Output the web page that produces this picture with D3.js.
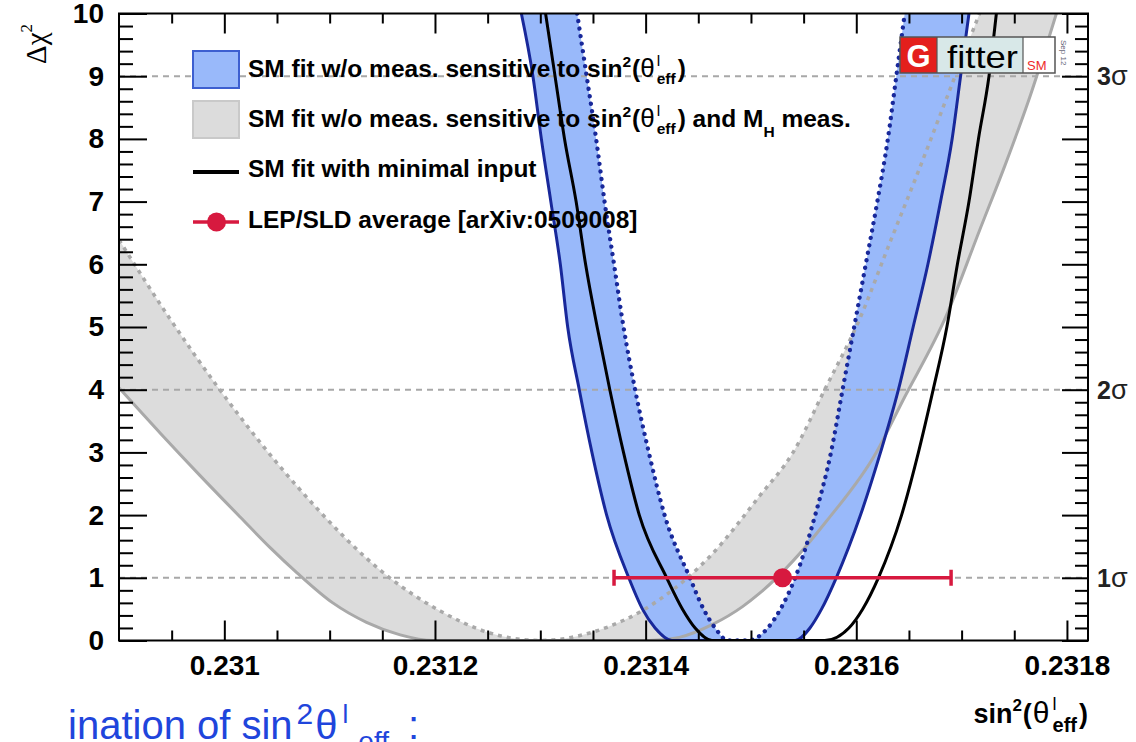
<!DOCTYPE html>
<html><head><meta charset="utf-8">
<script src="https://cdn.jsdelivr.net/npm/d3@7"></script>
<style>html,body{margin:0;padding:0;background:#fff;} svg{display:block;}</style>
</head><body><svg id="c" width="1136" height="742"></svg>
<script>
// ---------------- data ----------------
const xDomain = [0.2309, 0.23182];
const yDomain = [0, 10];
const xMajorTicks = [0.2310, 0.2312, 0.2314, 0.2316, 0.2318];
const xTickLabels = ["0.231", "0.2312", "0.2314", "0.2316", "0.2318"];
const yMajorTicks = [0, 1, 2, 3, 4, 5, 6, 7, 8, 9, 10];
const yTickLabels = ["0", "1", "2", "3", "4", "5", "6", "7", "8", "9", "10"];
const sigmaLevels = [1, 4, 9];
const sigmaLabels = ["1", "2", "3"];

// Grey band: SM fit w/o meas. sensitive to sin2 and MH meas.
const grayInnerX = [0.230900, 0.230948, 0.230993, 0.231069, 0.231157, 0.231205, 0.231252, 0.231300, 0.231347, 0.231413, 0.231461, 0.231508, 0.231540, 0.231570, 0.231603, 0.231632, 0.231657, 0.231689, 0.231717];
const grayInnerY = [6.39, 5.14, 4.06, 2.46, 1.00, 0.47, 0.12, 0.00, 0.12, 0.65, 1.34, 2.30, 3.00, 4.00, 5.12, 6.35, 7.40, 8.79, 10.0];
const grayOuterX = [0.230900, 0.230939, 0.230977, 0.231015, 0.231043, 0.231069, 0.231103, 0.231135, 0.231167, 0.231198, 0.231404, 0.231432, 0.231464, 0.231492, 0.231508, 0.231540, 0.231572, 0.231619, 0.231644, 0.231686, 0.231717, 0.231741, 0.231765, 0.231790];
const grayOuterY = [4.03, 3.31, 2.63, 1.97, 1.49, 1.08, 0.60, 0.29, 0.09, 0.00, 0.00, 0.05, 0.26, 0.54, 0.75, 1.27, 1.91, 3.00, 3.82, 5.20, 6.54, 7.57, 8.68, 10.0];

// Blue band: SM fit w/o meas. sensitive to sin2
const blueInnerX = [0.231335, 0.231344, 0.231353, 0.231361, 0.231370, 0.231379, 0.231390, 0.231403, 0.231418, 0.231442, 0.231455, 0.231466, 0.231478,
                    0.231497, 0.231516, 0.231528, 0.231542, 0.231561, 0.231576, 0.231587, 0.231598, 0.231609, 0.231620, 0.231630, 0.231638, 0.231646];
const blueInnerY = [10, 9, 8, 7, 6, 5, 4, 3, 2, 1, 0.5, 0.2, 0,
                    0, 0.2, 0.5, 1, 2, 3, 4, 5, 6, 7, 8, 9, 10];
const blueOuterX = [0.231282, 0.231293, 0.231301, 0.231310, 0.231319, 0.231326, 0.231337, 0.231349, 0.231363, 0.231384, 0.231397, 0.231409, 0.231425,
                    0.231542, 0.231556, 0.231567, 0.231581, 0.231604, 0.231623, 0.231640, 0.231654, 0.231668, 0.231680, 0.231691, 0.231699, 0.231707];
const blueOuterY = [10, 9, 8, 7, 6, 5, 4, 3, 2, 1, 0.5, 0.2, 0,
                    0, 0.2, 0.5, 1, 2, 3, 4, 5, 6, 7, 8, 9, 10];

// Black: SM fit with minimal input
const blackX = [0.231305, 0.231314, 0.231323, 0.231334, 0.231343, 0.231354, 0.231366, 0.231379, 0.231394, 0.231420, 0.231435, 0.231447, 0.231463,
                0.231570, 0.231593, 0.231606, 0.231621, 0.231643, 0.231659, 0.231673, 0.231686, 0.231696, 0.231707, 0.231716, 0.231726, 0.231733];
const blackY = [10, 9, 8, 7, 6, 5, 4, 3, 2, 1, 0.5, 0.2, 0,
                0, 0.2, 0.5, 1, 2, 3, 4, 5, 6, 7, 8, 9, 10];

// LEP/SLD average
const lepValue = 0.23153;
const lepError = 0.00016;
const lepChi2 = 1;

const legendLabels = ["SM fit w/o meas. sensitive to sin", "SM fit w/o meas. sensitive to sin", "SM fit with minimal input", "LEP/SLD average [arXiv:0509008]"];

// ---------------- chart ----------------
const FONT = "'Liberation Sans', Arial, Helvetica, sans-serif";
const SERIF = "'Liberation Serif', 'Times New Roman', serif";
const BLUE_FILL = "#99b9fa", BLUE_LINE = "#18289a", GRAY_FILL = "#dcdcdc", GRAY_LINE = "#a9a9a9", RED = "#d7193f";

const svg = d3.select("#c");
const fr = {l: 119, r: 1088, t: 13.5, b: 640.5};
const x = d3.scaleLinear().domain(xDomain).range([fr.l, fr.r]);
const y = d3.scaleLinear().domain(yDomain).range([fr.b, fr.t]);

svg.append("rect").attr("width", 1136).attr("height", 742).attr("fill", "#fff");
svg.append("defs").append("clipPath").attr("id", "clip").append("rect")
  .attr("x", fr.l).attr("y", fr.t).attr("width", fr.r - fr.l).attr("height", fr.b - fr.t);

const zip = (xs, ys) => xs.map((v, i) => [v, ys[i]]);
const line = d3.line().x(d => x(d[0])).y(d => y(d[1])).curve(d3.curveMonotoneX);
const band = (inner, outer) => line(inner) + line(outer.slice().reverse()).replace(/^M/, "L") + "Z";

const grayInner = zip(grayInnerX, grayInnerY), grayOuter = zip(grayOuterX, grayOuterY);
const blueInner = zip(blueInnerX, blueInnerY), blueOuter = zip(blueOuterX, blueOuterY);
const black = zip(blackX, blackY);

const plot = svg.append("g").attr("clip-path", "url(#clip)");
plot.append("path").attr("d", band(grayInner, grayOuter)).attr("fill", GRAY_FILL);
plot.append("path").attr("d", band(blueInner, blueOuter)).attr("fill", BLUE_FILL);

// sigma dashed lines
plot.selectAll("line.sig").data(sigmaLevels).enter().append("line")
  .attr("x1", fr.l).attr("x2", fr.r).attr("y1", d => y(d)).attr("y2", d => y(d))
  .attr("stroke", "#a8a8a8").attr("stroke-width", 2).attr("stroke-dasharray", "6 5");

plot.append("path").attr("d", line(grayOuter)).attr("fill", "none").attr("stroke", GRAY_LINE).attr("stroke-width", 3);
plot.append("path").attr("d", line(grayInner)).attr("fill", "none").attr("stroke", GRAY_LINE).attr("stroke-width", 3.5).attr("stroke-dasharray", "4 5");
plot.append("path").attr("d", line(blueOuter)).attr("fill", "none").attr("stroke", BLUE_LINE).attr("stroke-width", 3);
plot.append("path").attr("d", line(blueInner)).attr("fill", "none").attr("stroke", BLUE_LINE).attr("stroke-width", 4.3)
  .attr("stroke-dasharray", "0.1 7.5").attr("stroke-linecap", "round");
plot.append("path").attr("d", line(black)).attr("fill", "none").attr("stroke", "#000").attr("stroke-width", 3);

// LEP/SLD point
const ly = y(lepChi2);
plot.append("line").attr("x1", x(lepValue - lepError)).attr("x2", x(lepValue + lepError)).attr("y1", ly).attr("y2", ly)
  .attr("stroke", RED).attr("stroke-width", 3.5);
[lepValue - lepError, lepValue + lepError].forEach(v => {
  plot.append("line").attr("x1", x(v)).attr("x2", x(v)).attr("y1", ly - 8).attr("y2", ly + 8).attr("stroke", RED).attr("stroke-width", 3.5);
});
plot.append("circle").attr("cx", x(lepValue)).attr("cy", ly).attr("r", 9.5).attr("fill", RED);

// axes
function styleAxis(g) {
  g.select(".domain").remove();
  g.selectAll(".tick line").attr("stroke", "#000").attr("stroke-width", 2);
  g.selectAll(".tick text").attr("font-family", FONT).attr("font-size", 28).attr("font-weight", "bold").attr("fill", "#000");
}
const xMinor = d3.range(1, 19).map(i => +(xDomain[0] + i * 0.00005).toFixed(6)).filter(v => v < xDomain[1] && !xMajorTicks.some(m => Math.abs(m - v) < 1e-9));
const yMinor = d3.range(1, 50).map(i => +(i * 0.2).toFixed(2)).filter(v => v % 1 !== 0);

svg.append("g").attr("transform", `translate(0,${fr.b})`)
  .call(d3.axisBottom(x).tickValues(xMinor).tickSize(-10).tickFormat("")).call(styleAxis);
svg.append("g").attr("transform", `translate(0,${fr.b})`)
  .call(d3.axisBottom(x).tickValues(xMajorTicks).tickSize(-20).tickPadding(14.5).tickFormat((d, i) => xTickLabels[i])).call(styleAxis);
svg.append("g").attr("transform", `translate(0,${fr.t})`)
  .call(d3.axisTop(x).tickValues(xMinor).tickSize(-10).tickFormat("")).call(styleAxis);
svg.append("g").attr("transform", `translate(0,${fr.t})`)
  .call(d3.axisTop(x).tickValues(xMajorTicks).tickSize(-20).tickFormat("")).call(styleAxis);
svg.append("g").attr("transform", `translate(${fr.l},0)`)
  .call(d3.axisLeft(y).tickValues(yMinor).tickSize(-14).tickFormat("")).call(styleAxis);
svg.append("g").attr("transform", `translate(${fr.l},0)`)
  .call(d3.axisLeft(y).tickValues(yMajorTicks).tickSize(-28).tickPadding(15).tickFormat((d, i) => yTickLabels[i])).call(styleAxis);
svg.append("g").attr("transform", `translate(${fr.r},0)`)
  .call(d3.axisRight(y).tickValues(yMinor).tickSize(-13).tickFormat("")).call(styleAxis);
svg.append("g").attr("transform", `translate(${fr.r},0)`)
  .call(d3.axisRight(y).tickValues(yMajorTicks).tickSize(-26).tickFormat("")).call(styleAxis);

svg.append("rect").attr("x", fr.l).attr("y", fr.t).attr("width", fr.r - fr.l).attr("height", fr.b - fr.t)
  .attr("fill", "none").attr("stroke", "#000").attr("stroke-width", 2);

// rich text helper
function rich(g, x0, y0, parts, base) {
  let cx = x0, prevStart = x0;
  parts.forEach(p => {
    const sx = p.stack ? prevStart : cx + (p.dx || 0);
    const t = g.append("text").attr("x", sx).attr("y", y0 + (p.dy || 0))
      .attr("font-family", p.family || base.family)
      .attr("font-size", p.size || base.size)
      .attr("font-weight", p.weight || base.weight || "normal")
      .attr("fill", p.fill || base.fill || "#000")
      .style("white-space", "pre").text(p.t);
    const w = t.node().getComputedTextLength();
    if (p.stack) cx = Math.max(cx, sx + w);
    else { prevStart = sx; cx = sx + w; }
  });
  return cx;
}

// sigma labels on the right
sigmaLevels.forEach((s, i) => {
  rich(svg.append("g"), 1097, y(s) + 9, [{t: sigmaLabels[i], weight: "bold"}, {t: "σ", weight: "normal", size: 27}],
    {family: FONT, size: 25, fill: "#222"});
});

// y title
const yt = svg.append("g").attr("transform", "translate(46,64) rotate(-90)");
rich(yt, 0, 0, [{t: "Δχ"}, {t: "2", size: 17, dy: -14}], {family: SERIF, size: 29, fill: "#000"});

// x title (right aligned to frame)
const xt = svg.append("g");
const xtw = rich(xt, 0, 723, [
  {t: "sin"}, {t: "2", size: 17, dy: -12}, {t: "(", dx: 1}, {t: "θ", weight: "normal", size: 30, dx: 1},
  {t: "l", size: 18, dy: -13, weight: "normal", dx: 3}, {t: "eff", size: 20, dy: 9, stack: true}, {t: ")", dx: 2}
], {family: FONT, size: 27, weight: "bold", fill: "#000"});
xt.attr("transform", `translate(${fr.r - xtw},0)`);

// legend
const lg = svg.append("g");
lg.append("rect").attr("x", 193).attr("y", 51).attr("width", 46).attr("height", 37).attr("fill", BLUE_FILL).attr("stroke", "#3d5fd0").attr("stroke-width", 2);
lg.append("rect").attr("x", 193).attr("y", 101).attr("width", 46).attr("height", 37).attr("fill", GRAY_FILL).attr("stroke", "#c9c9c9").attr("stroke-width", 2);
lg.append("line").attr("x1", 193).attr("x2", 239).attr("y1", 172).attr("y2", 172).attr("stroke", "#000").attr("stroke-width", 4);
lg.append("line").attr("x1", 193).attr("x2", 239).attr("y1", 222).attr("y2", 222).attr("stroke", RED).attr("stroke-width", 3.5);
lg.append("circle").attr("cx", 216.5).attr("cy", 222).attr("r", 9.5).attr("fill", RED);
const lbase = {family: FONT, size: 24.5, weight: "bold", fill: "#000"};
const sinParts = [{t: "2", size: 15.5, dy: -10}, {t: "(", dx: 1}, {t: "θ", weight: "normal", size: 26}, {t: "l", size: 15.5, dy: -11, weight: "normal", dx: 2}, {t: "eff", size: 15.5, dy: 7, stack: true}];
rich(lg, 248, 77, [{t: legendLabels[0]}].concat(sinParts, [{t: ")", dx: 2}]), lbase);
rich(lg, 248, 127, [{t: legendLabels[1]}].concat(sinParts, [{t: ") and M", dx: 2}, {t: "H", size: 15.5, dy: 10}, {t: " meas."}]), lbase);
rich(lg, 248, 177, [{t: legendLabels[2]}], lbase);
rich(lg, 248, 228, [{t: legendLabels[3]}], lbase);

// Gfitter logo
const lo = svg.append("g");
lo.append("rect").attr("x", 900).attr("y", 37).attr("width", 37).attr("height", 36).attr("fill", "#e41f1c");
lo.append("rect").attr("x", 937).attr("y", 37).attr("width", 86).attr("height", 36).attr("fill", "#d8e8e8");
lo.append("rect").attr("x", 1023).attr("y", 37).attr("width", 32).attr("height", 36).attr("fill", "#fff");
lo.append("rect").attr("x", 900).attr("y", 37).attr("width", 155).attr("height", 36).attr("fill", "none").attr("stroke", "#555").attr("stroke-width", 1.5);
lo.append("line").attr("x1", 937).attr("x2", 937).attr("y1", 37).attr("y2", 73).attr("stroke", "#555").attr("stroke-width", 1.2);
lo.append("line").attr("x1", 1023).attr("x2", 1023).attr("y1", 37).attr("y2", 73).attr("stroke", "#555").attr("stroke-width", 1.2);
lo.append("text").attr("x", 918.5).attr("y", 67).attr("text-anchor", "middle").attr("font-family", FONT).attr("font-weight", "bold").attr("font-size", 31).attr("fill", "#fff").text("G");
lo.append("text").attr("x", 947).attr("y", 68).attr("font-family", FONT).attr("font-size", 32).attr("fill", "#000")
  .attr("textLength", 71).attr("lengthAdjust", "spacingAndGlyphs").text("fitter");
lo.append("text").attr("x", 1027).attr("y", 70).attr("font-family", FONT).attr("font-size", 13).attr("fill", "#ee2b2b").text("SM");
lo.append("text").attr("transform", "translate(1061,40) rotate(90)").attr("font-family", FONT).attr("font-size", 8).attr("fill", "#667").text("Sep 12");

// slide caption fragment at the bottom
rich(svg.append("g"), 68, 739, [
  {t: "ination of sin"}, {t: "2", size: 30, dy: -15, dx: 4}, {t: "θ", dx: 2}, {t: "l", size: 26, dy: -16, dx: 5}, {t: "eff", size: 28, dy: 12, dx: 10}, {t: " :", dx: 8}
], {family: FONT, size: 40, weight: "normal", fill: "#1f45dc"});
</script>
</body></html>
